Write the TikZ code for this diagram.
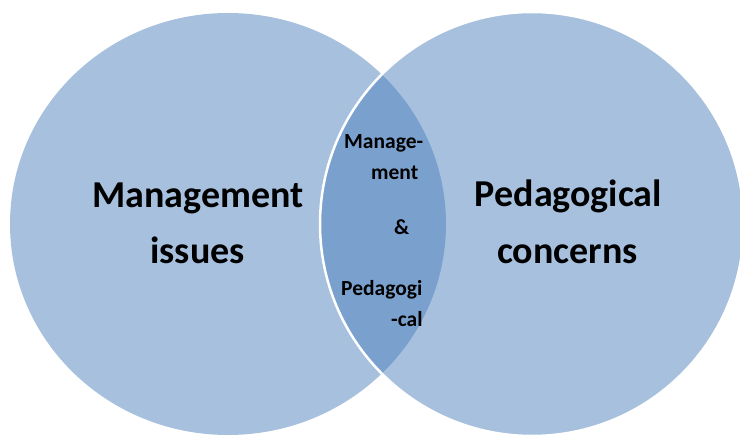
\documentclass[tikz,border=0pt]{standalone}
\usepackage{fontspec}
\setmainfont{Carlito}
\definecolor{vennblue}{HTML}{4F81BD}

\begin{document}
\begin{tikzpicture}[x=1pt,y=-1pt,
    venn/.style={fill=vennblue,fill opacity=0.5},
    big/.style={font=\fontsize{38}{44}\selectfont\bfseries,anchor=base,inner sep=0pt},
    small/.style={font=\fontsize{21.5}{26}\selectfont\bfseries,anchor=base west,inner sep=0pt}]

    \useasboundingbox (0,0) rectangle (740,435);
    \clip (0,0) rectangle (740,435);

    % the two sets
    \fill[venn] (228,224) ellipse [x radius=218, y radius=211];
    \filldraw[venn,draw=white,line width=2.5pt] (532,224) ellipse [x radius=212, y radius=212];

    % labels of the sets
    \node[big] (mgmt1) at (198,207.5) {Management};
    \node[big] (mgmt2) at (197.5,264) {issues};
    \node[big] (peda1) at (568.5,206.5) {Pedagogical};
    \node[big] (peda2) at (567.5,264) {concerns};

    % overlap
    \node[small] (both1) at (344,149) {Manage-};
    \node[small] (both2) at (371,180) {ment};
    \node[small] (both3) at (394,235) {\&};
    \node[small] (both4) at (341,296) {Pedagogi};
    \node[small] (both5) at (391,327) {-cal};

\end{tikzpicture}
\end{document}
